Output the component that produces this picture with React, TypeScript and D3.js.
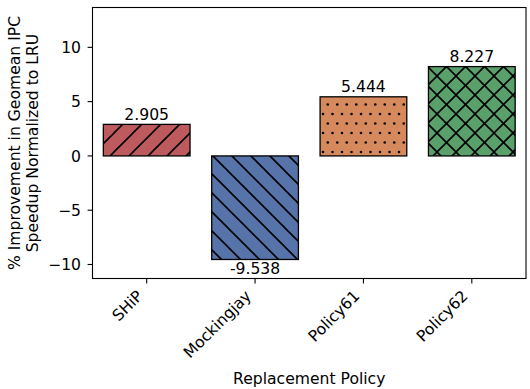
import React from 'react';
import * as d3 from 'd3';

// Data
const policies = ['SHiP', 'Mockingjay', 'Policy61', 'Policy62'];
const improvements = [2.905, -9.538, 5.444, 8.227];
const barColors = ['#bc5a5e', '#5673aa', '#d5895d', '#5aa06b'];
const hatches = ['diag', 'back', 'dots', 'cross'];
const yTicks = [-10, -5, 0, 5, 10];

const width = 530;
const height = 389;
const margin = { top: 7.5, right: 4, bottom: 110.5, left: 92.5 };
const font = 'DejaVu Sans, sans-serif';
const fs = 15.6;
const tile = 19;

const fmtTick = (v: number) => (v < 0 ? '\u2212' + Math.abs(v) : String(v));

const Hatch: React.FC<{ id: string; kind: string; color: string }> = ({ id, kind, color }) => {
  const lw = 1.6;
  return (
    <pattern id={id} patternUnits="userSpaceOnUse" width={tile} height={tile}>
      <rect width={tile} height={tile} fill={color} />
      {(kind === 'diag' || kind === 'cross') && (
        <path
          d={`M-2,2 L2,-2 M0,${tile} L${tile},0 M${tile - 2},${tile + 2} L${tile + 2},${tile - 2}`}
          stroke="#000"
          strokeWidth={lw}
        />
      )}
      {(kind === 'back' || kind === 'cross') && (
        <path
          d={`M-2,${tile - 2} L2,${tile + 2} M0,0 L${tile},${tile} M${tile - 2},-2 L${tile + 2},2`}
          stroke="#000"
          strokeWidth={lw}
        />
      )}
      {kind === 'dots' &&
        [
          [0, 0], [tile / 2, 0], [tile, 0],
          [tile / 4, tile / 2], [(3 * tile) / 4, tile / 2],
          [0, tile], [tile / 2, tile], [tile, tile],
        ].map(([cx, cy], i) => <circle key={i} cx={cx} cy={cy} r={1.3} fill="#000" />)}
    </pattern>
  );
};

export default function App() {
  const x0 = margin.left;
  const x1 = width - margin.right;
  const y0 = margin.top;
  const y1 = height - margin.bottom;

  const xScale = d3.scaleBand<string>().domain(policies).range([x0, x1]).paddingInner(0.2).paddingOuter(0.1);
  const yScale = d3.scaleLinear().domain([-11.29, 13.67]).range([y1, y0]);
  const bw = xScale.bandwidth();

  return (
    <svg
      width={width}
      height={height}
      style={{ position: 'absolute', left: 0, top: 0, background: '#fff' }}
      fontFamily={font}
    >
      <defs>
        {policies.map((p, i) => (
          <Hatch key={p} id={`h${i}`} kind={hatches[i]} color={barColors[i]} />
        ))}
      </defs>
      <rect width={width} height={height} fill="#fff" />

      {/* bars */}
      {policies.map((p, i) => {
        const v = improvements[i];
        const yTop = yScale(Math.max(0, v));
        const yBot = yScale(Math.min(0, v));
        const xl = xScale(p)!;
        return (
          <g key={p}>
            <rect x={xl} y={yTop} width={bw} height={yBot - yTop} fill={`url(#h${i})`} stroke="#000" strokeWidth={1.3} />
            <text
              x={xl + bw / 2}
              y={v >= 0 ? yTop - 4.5 : yBot + 14.5}
              textAnchor="middle"
              fontSize={fs}
              fill="#000"
            >
              {v.toFixed(3)}
            </text>
          </g>
        );
      })}

      {/* frame */}
      <rect x={x0} y={y0} width={x1 - x0} height={y1 - y0} fill="none" stroke="#000" strokeWidth={1.1} />

      {/* y axis */}
      {yTicks.map((t) => (
        <g key={t} transform={`translate(0,${yScale(t)})`}>
          <line x1={x0 - 4.9} x2={x0} stroke="#000" strokeWidth={1.1} />
          <text x={x0 - 11.5} dy="0.36em" textAnchor="end" fontSize={fs} fill="#000">
            {fmtTick(t)}
          </text>
        </g>
      ))}

      {/* x axis */}
      {policies.map((p) => {
        const cx = xScale(p)! + bw / 2;
        return (
          <g key={p}>
            <line x1={cx} x2={cx} y1={y1} y2={y1 + 4.9} stroke="#000" strokeWidth={1.1} />
            <text
              transform={`translate(${cx - 3},${y1 + 18.5}) rotate(-45)`}
              textAnchor="end"
              fontSize={fs}
              fill="#000"
            >
              {p}
            </text>
          </g>
        );
      })}

      {/* axis labels */}
      <text x={(x0 + x1) / 2} y={384} textAnchor="middle" fontSize={fs} fill="#000">
        Replacement Policy
      </text>
      <text transform={`translate(20,${(y0 + y1) / 2}) rotate(-90)`} textAnchor="middle" fontSize={fs} fill="#000">
        % Improvement in Geomean IPC
      </text>
      <text transform={`translate(37.5,${(y0 + y1) / 2}) rotate(-90)`} textAnchor="middle" fontSize={fs} fill="#000">
        Speedup Normalized to LRU
      </text>
    </svg>
  );
}
